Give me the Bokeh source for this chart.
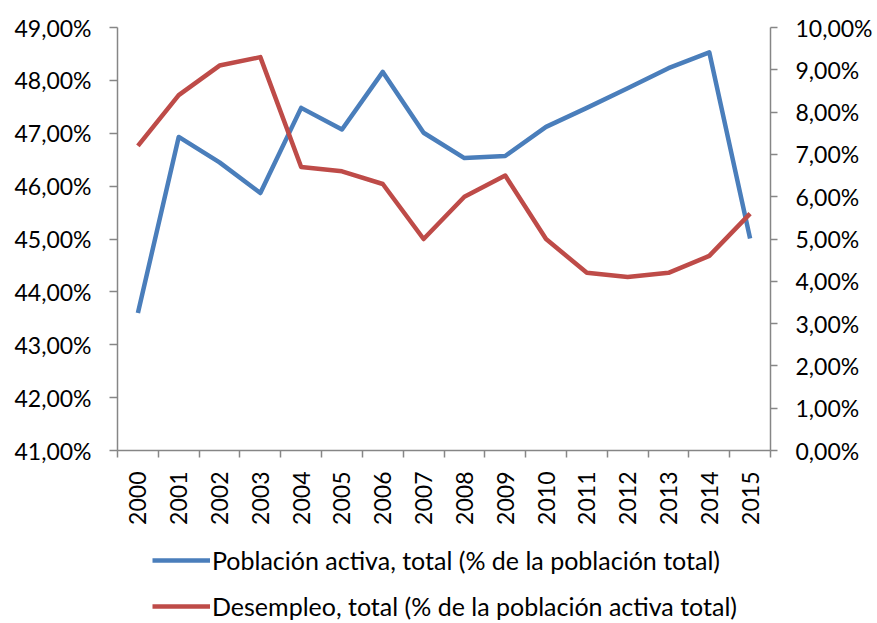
import math
from bokeh.plotting import figure
from bokeh.layouts import column
from bokeh.models import (Range1d, LinearAxis, FixedTicker, CustomJSTickFormatter,
                          Legend, LegendItem)
from bokeh.embed import file_html
from bokeh.resources import INLINE

years = ["2000", "2001", "2002", "2003", "2004", "2005", "2006", "2007",
         "2008", "2009", "2010", "2011", "2012", "2013", "2014", "2015"]
poblacion_activa = [43.60, 46.93, 46.45, 45.87, 47.48, 47.07, 48.16, 47.01,
                    46.53, 46.57, 47.12, 47.48, 47.85, 48.23, 48.53, 45.01]
desempleo = [7.2, 8.4, 9.1, 9.3, 6.7, 6.6, 6.3, 5.0,
             6.0, 6.5, 5.0, 4.2, 4.1, 4.2, 4.6, 5.6]
left_ticks = [41, 42, 43, 44, 45, 46, 47, 48, 49]
right_ticks = [0, 1, 2, 3, 4, 5, 6, 7, 8, 9, 10]
label_pob = "Población activa, total (% de la población total)"
label_des = "Desempleo, total (% de la población activa total)"

FONT = "Lato"
GRAY = "#868686"
BLUE = "#4A7EBB"
RED = "#BE4B48"
W = 875

n = len(years)
xs = [i + 0.5 for i in range(n)]

p = figure(width=W, height=527, output_backend="svg", toolbar_location=None,
           x_range=Range1d(0, n), y_range=Range1d(41, 49),
           min_border_left=117, min_border_top=27, min_border_right=W - 770,
           min_border_bottom=77, x_axis_location=None, y_axis_location=None)
p.outline_line_color = None
p.xgrid.visible = False
p.ygrid.visible = False
p.background_fill_color = "white"
p.border_fill_color = "white"

p.extra_y_ranges = {"right": Range1d(0, 10)}

pct_fmt = CustomJSTickFormatter(code="return tick.toFixed(2).replace('.', ',') + '%';")

def style_axis(ax):
    ax.axis_line_color = GRAY
    ax.axis_line_width = 1.5
    ax.major_tick_line_color = GRAY
    ax.major_tick_line_width = 1.5
    ax.minor_tick_line_color = GRAY
    ax.minor_tick_line_width = 1.5
    ax.major_label_text_font = FONT
    ax.major_label_text_font_size = "23px"
    ax.major_label_text_color = "black"

yl = LinearAxis(ticker=FixedTicker(ticks=left_ticks), formatter=pct_fmt)
style_axis(yl)
yl.major_tick_in = 0
yl.major_tick_out = 8
yl.minor_tick_out = 0
yl.minor_tick_in = 0
yl.major_label_standoff = 18
p.add_layout(yl, "left")

yr = LinearAxis(y_range_name="right", ticker=FixedTicker(ticks=right_ticks), formatter=pct_fmt)
style_axis(yr)
yr.major_tick_in = 0
yr.major_tick_out = 7
yr.minor_tick_out = 0
yr.minor_tick_in = 0
yr.major_label_standoff = 18
p.add_layout(yr, "right")

x_fmt = CustomJSTickFormatter(args=dict(years=years),
                              code="return years[Math.floor(tick)];")
xa = LinearAxis(ticker=FixedTicker(ticks=xs, minor_ticks=list(range(n + 1))),
                formatter=x_fmt)
style_axis(xa)
xa.major_tick_in = 0
xa.major_tick_out = 0
xa.minor_tick_in = 0
xa.minor_tick_out = 7
xa.major_label_orientation = math.pi / 2
xa.major_label_standoff = 14
p.add_layout(xa, "below")

p.line(xs, poblacion_activa, line_color=BLUE, line_width=4.5, line_join="round")
p.line(xs, desempleo, y_range_name="right", line_color=RED, line_width=4.5,
       line_join="round")

# Legend panel below the chart (proxy renderers lie outside this panel's view)
p2 = figure(width=W, height=94, output_backend="svg", toolbar_location=None,
            x_range=Range1d(0, n), y_range=Range1d(0, 1),
            min_border=0, x_axis_location=None, y_axis_location=None)
p2.outline_line_color = None
p2.xgrid.visible = False
p2.ygrid.visible = False
l1 = p2.line(xs, poblacion_activa, line_color=BLUE, line_width=4.5)
l2 = p2.line(xs, desempleo, line_color=RED, line_width=4.5)

legend = Legend(items=[LegendItem(label=label_pob, renderers=[l1]),
                       LegendItem(label=label_des, renderers=[l2])],
                location=(35, 0), orientation="vertical")
legend.label_text_font = FONT
legend.label_text_font_size = "25px"
legend.label_text_color = "black"
legend.glyph_width = 58
legend.glyph_height = 28
legend.label_height = 28
legend.label_standoff = 2
legend.spacing = 16
legend.padding = 0
legend.margin = 0
legend.border_line_color = None
legend.background_fill_alpha = 0
p2.add_layout(legend, "center")

layout = column(p, p2, spacing=0)
open("out.html", "w").write(file_html(layout, INLINE))
